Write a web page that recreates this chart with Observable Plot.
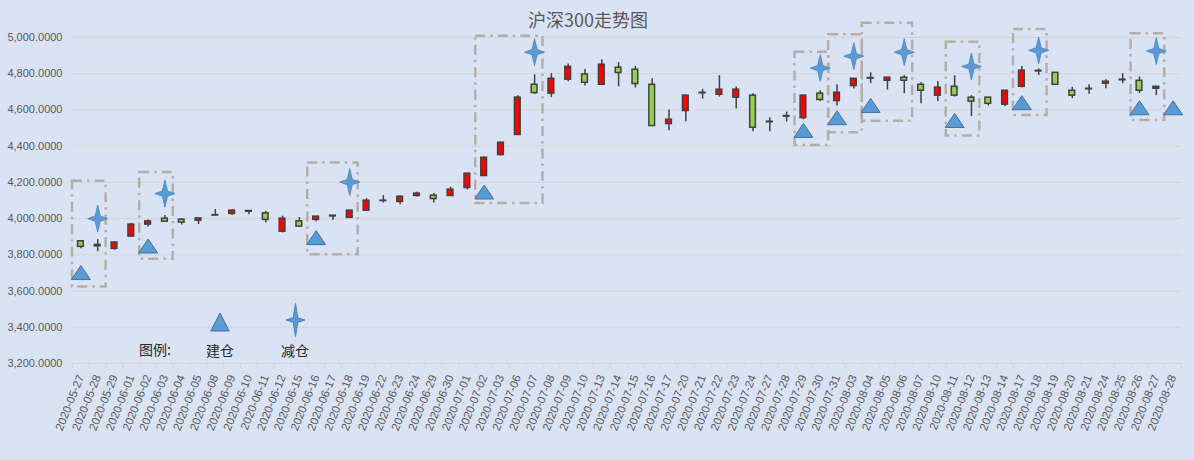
<!DOCTYPE html>
<html>
<head>
<meta charset="utf-8">
<script src="https://cdn.jsdelivr.net/npm/d3@7"></script>
<script src="https://cdn.jsdelivr.net/npm/@observablehq/plot@0.6"></script>
<style>
  html, body { margin: 0; padding: 0; background: #dae3f3; }
  #wrap { position: relative; width: 1194px; height: 460px; background: #dae3f3; overflow: hidden; }
  #overlay { position: absolute; left: 0; top: 0; pointer-events: none; }
</style>
</head>
<body>
<div id="wrap"></div>
<script>
// ---------- data ----------
const title = "沪深300走势图";
const dates = [
  "2020-05-27","2020-05-28","2020-05-29","2020-06-01","2020-06-02","2020-06-03","2020-06-04","2020-06-05",
  "2020-06-08","2020-06-09","2020-06-10","2020-06-11","2020-06-12","2020-06-15","2020-06-16","2020-06-17",
  "2020-06-18","2020-06-19","2020-06-22","2020-06-23","2020-06-24","2020-06-29","2020-06-30","2020-07-01",
  "2020-07-02","2020-07-03","2020-07-06","2020-07-07","2020-07-08","2020-07-09","2020-07-10","2020-07-13",
  "2020-07-14","2020-07-15","2020-07-16","2020-07-17","2020-07-20","2020-07-21","2020-07-22","2020-07-23",
  "2020-07-24","2020-07-27","2020-07-28","2020-07-29","2020-07-30","2020-07-31","2020-08-03","2020-08-04",
  "2020-08-05","2020-08-06","2020-08-07","2020-08-10","2020-08-11","2020-08-12","2020-08-13","2020-08-14",
  "2020-08-17","2020-08-18","2020-08-19","2020-08-20","2020-08-21","2020-08-24","2020-08-25","2020-08-26",
  "2020-08-27","2020-08-28"
];
const open = [
  3875,3847,3833,3901,3967,4000,3994,3989, 4017,4026,4042,4029,3928,3985,3993,4012,
  4004,4044,4097,4092,4125,4127,4125,4169, 4235,4351,4462,4739,4690,4767,4796,4739,
  4833,4822,4739,4522,4594,4692,4684,4668, 4679,4532,4563,4555,4690,4649,4732,4773,
  4761,4778,4739,4679,4728,4668,4668,4629, 4728,4813,4805,4706,4714,4745,4764,4761,
  4717,null
];
const high = [
  3876,3884,3872,3974,3993,4017,4000,4002, 4050,4050,4043,4040,4013,4006,4012,4017,
  4046,4110,4127,4123,4145,4138,4173,4250, 4340,4421,4679,4794,4800,4853,4824,4877,
  4861,4840,4772,4600,4681,4714,4789,4726, 4690,4557,4588,4681,4706,4739,4773,4805,
  4779,4789,4750,4756,4789,4679,4669,4707, 4840,4826,4806,4725,4739,4767,4800,4782,
  4729,null
];
const low = [
  3833,3818,3826,3899,3954,3980,3965,3967, 4015,4017,4022,3976,3921,3955,3983,3989,
  4000,4040,4086,4077,4120,4086,4124,4158, 4233,4346,4460,4686,4668,4755,4732,4737,
  4728,4721,4510,4485,4535,4660,4671,4605, 4480,4480,4533,4546,4647,4622,4715,4745,
  4710,4690,4634,4646,4671,4563,4622,4618, 4721,4791,4738,4662,4686,4717,4745,4691,
  4679,null
];
const close = [
  3844,3855,3868,3967,3985,3983,3978,4001, 4019,4044,4038,3993,4000,3956,4011,4016,
  4044,4099,4099,4121,4138,4108,4160,4248, 4336,4419,4668,4693,4772,4838,4750,4850,
  4804,4743,4511,4546,4679,4695,4712,4712, 4502,4535,4566,4679,4655,4695,4772,4776,
  4778,4761,4706,4723,4679,4646,4634,4706, 4817,4816,4739,4679,4717,4756,4767,4706,
  4728,null
];
// 建仓 (open position) markers
const buyDates  = ["2020-05-27","2020-06-02","2020-06-16","2020-07-02","2020-07-29","2020-07-31","2020-08-04","2020-08-11","2020-08-17","2020-08-26","2020-08-28"];
const buyValues = [3702,3849,3895,4147,4487,4557,4625,4542,4640,4612,4612];
// 减仓 (reduce position) markers
const sellDates  = ["2020-05-28","2020-06-03","2020-06-18","2020-07-07","2020-07-30","2020-08-03","2020-08-06","2020-08-12","2020-08-18","2020-08-27"];
const sellValues = [4000,4138,4202,4919,4831,4897,4919,4840,4929,4925];
// highlight boxes
const boxFrom = ["2020-05-27","2020-06-02","2020-06-16","2020-07-02","2020-07-29","2020-07-31","2020-08-04","2020-08-11","2020-08-17","2020-08-26"];
const boxTo   = ["2020-05-28","2020-06-03","2020-06-18","2020-07-07","2020-07-30","2020-08-03","2020-08-06","2020-08-12","2020-08-18","2020-08-27"];
const boxLow  = [3623,3775,3801,4083,4404,4474,4538,4456,4570,4542];
const boxHigh = [4206,4254,4307,5007,4919,5015,5079,4974,5044,5021];
const yTicks = [3200,3400,3600,3800,4000,4200,4400,4600,4800,5000];
const legendLabel = "图例:";
const buyLabel = "建仓";
const sellLabel = "减仓";

// ---------- build ----------
const idx = new Map(dates.map((d, i) => [d, i]));
const candles = dates.map((d, i) => ({i, o: open[i], h: high[i], l: low[i], c: close[i]})).filter(r => r.o != null);
const up = candles.filter(r => r.c >= r.o);
const down = candles.filter(r => r.c < r.o);
const buys = buyDates.map((d, k) => ({i: idx.get(d), v: buyValues[k]}));
const sells = sellDates.map((d, k) => ({i: idx.get(d), v: sellValues[k]}));
const boxes = boxFrom.map((d, k) => ({a: idx.get(d), b: idx.get(boxTo[k]), lo: boxLow[k], hi: boxHigh[k]}));

const triSym = {draw(ctx) { const w = 9.5, h = 7; ctx.moveTo(0, -h); ctx.lineTo(w, h); ctx.lineTo(-w, h); ctx.closePath(); }};
const starSym = {draw(ctx) { const H = 13.5, W = 10, k = 2.6;
  ctx.moveTo(0, -H); ctx.lineTo(k, -k); ctx.lineTo(W, 0); ctx.lineTo(k, k);
  ctx.lineTo(0, H); ctx.lineTo(-k, k); ctx.lineTo(-W, 0); ctx.lineTo(-k, -k); ctx.closePath(); }};

const bw = 0.17;
const chart = Plot.plot({
  width: 1194, height: 460,
  marginLeft: 72, marginRight: 13, marginTop: 37, marginBottom: 97,
  style: {background: "#dae3f3", color: "#595959", fontFamily: "'Liberation Sans', sans-serif", fontSize: "11px", overflow: "visible"},
  x: {domain: [-0.5, dates.length - 0.5]},
  y: {domain: [3200, 5000]},
  marks: [
    Plot.gridY(yTicks, {stroke: "#d4d4d4", strokeOpacity: 1}),
    Plot.axisY({ticks: yTicks, tickFormat: d3.format(",.4f"), tickSize: 0, tickPadding: 10, fontSize: 11, fill: "#595959", label: null}),
    Plot.axisX({ticks: d3.range(-0.5, dates.length, 1), tickFormat: () => "", tickSize: 5, stroke: "#d4d4d4", label: null}),
    Plot.axisX({ticks: d3.range(dates.length), tickFormat: i => dates[i], tickSize: 0, tickPadding: 12, tickRotate: -68, fontSize: 11.5, fill: "#595959", label: null}),
    Plot.rect(boxes, {x1: b => b.a - 0.5, x2: b => b.b + 0.5, y1: "lo", y2: "hi", fill: "none",
      stroke: "#b5aea8", strokeWidth: 2.5, strokeDasharray: "10,5,2.5,5"}),
    Plot.ruleX(candles, {x: "i", y1: "l", y2: "h", stroke: "#404040", strokeWidth: 1.5}),
    Plot.rect(up, {x1: r => r.i - bw, x2: r => r.i + bw, y1: "o", y2: "c", fill: "#ff0000", stroke: "#404040", strokeWidth: 1.5}),
    Plot.rect(down, {x1: r => r.i - bw, x2: r => r.i + bw, y1: "o", y2: "c", fill: "#92d050", stroke: "#404040", strokeWidth: 1.5}),
    Plot.dot(buys, {x: "i", y: "v", symbol: triSym, fill: "#5b9bd5", stroke: "#41719c", strokeWidth: 1}),
    Plot.dot(sells, {x: "i", y: "v", symbol: starSym, fill: "#5b9bd5", stroke: "#4a86bf", strokeWidth: 0.8})
  ]
});
const wrap = document.getElementById("wrap");
wrap.appendChild(chart);

// title + legend overlay
const ns = "http://www.w3.org/2000/svg";
const ov = document.createElementNS(ns, "svg");
ov.setAttribute("id", "overlay"); ov.setAttribute("width", 1194); ov.setAttribute("height", 460);
function txt(s, x, y, size, fill, anchor) {
  const t = document.createElementNS(ns, "text");
  t.textContent = s; t.setAttribute("x", x); t.setAttribute("y", y);
  t.setAttribute("font-family", "'Noto Sans CJK SC', sans-serif"); t.setAttribute("font-size", size);
  t.setAttribute("fill", fill); if (anchor) t.setAttribute("text-anchor", anchor);
  ov.appendChild(t);
}
function path(d, fill, stroke) {
  const p = document.createElementNS(ns, "path");
  p.setAttribute("d", d); p.setAttribute("fill", fill); p.setAttribute("stroke", stroke); p.setAttribute("stroke-width", 1);
  ov.appendChild(p);
}
txt(title, 588, 26.5, 18, "#595959", "middle");
txt(legendLabel, 139, 355, 14, "#262626");
txt(buyLabel, 206, 356, 14, "#262626");
txt(sellLabel, 281, 356, 14, "#262626");
path("M220,313 L229.2,331 L210.8,331 Z", "#5b9bd5", "#41719c");
path("M295.5,303.5 L297.8,317.7 L305,320 L297.8,322.3 L295.5,336.5 L293.2,322.3 L286,320 L293.2,317.7 Z", "#5b9bd5", "#4a86bf");
wrap.appendChild(ov);
</script>
</body>
</html>
